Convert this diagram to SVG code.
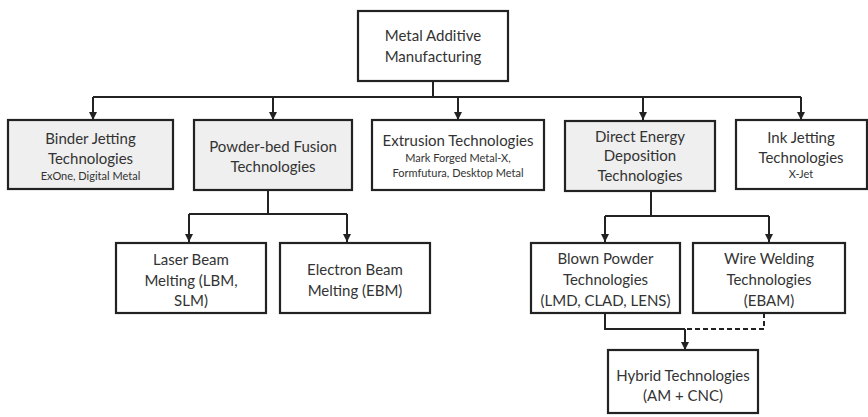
<svg xmlns="http://www.w3.org/2000/svg" width="868" height="417" viewBox="0 0 868 417">
  <defs>
    <marker id="arrow" viewBox="0 0 10 10" refX="10" refY="5" markerWidth="4" markerHeight="4" orient="auto" markerUnits="strokeWidth">
      <path d="M0,0 L10,5 L0,10 z" fill="#222"/>
    </marker>
    <style>
      .box { fill: #ffffff; stroke: #222; stroke-width: 2.2; }
      .box.grey { fill: #efefef; }
      .t { font-family: Lato, "Liberation Sans", sans-serif; font-size: 15px; fill: #333; text-anchor: middle; }
      .s { font-family: Lato, "Liberation Sans", sans-serif; font-size: 11px; fill: #333; text-anchor: middle; }
      .line { fill: none; stroke: #222; stroke-width: 2; }
      .arr { marker-end: url(#arrow); }
      .dash { stroke-dasharray: 5 3; }
    </style>
  </defs>
  <rect width="868" height="417" fill="#ffffff"/>

  <!-- connectors -->
  <g id="connectors">
    <path class="line" d="M433 81 V97 M93 97 H801"/>
    <path class="line arr" d="M93 97 V120"/>
    <path class="line arr" d="M273 97 V120"/>
    <path class="line arr" d="M458 97 V120"/>
    <path class="line arr" d="M643 97 V120"/>
    <path class="line arr" d="M801 97 V120"/>

    <path class="line" d="M268 190 V214 M189 214 H347"/>
    <path class="line arr" d="M189 214 V242"/>
    <path class="line arr" d="M347 214 V242"/>

    <path class="line" d="M651 190 V216 M605 216 H769"/>
    <path class="line arr" d="M605 216 V242"/>
    <path class="line arr" d="M769 216 V242"/>

    <path class="line" d="M605 313 V329 H685"/>
    <path class="line dash" d="M764 313 V329 H685"/>
    <path class="line arr" d="M685 329 V350"/>
  </g>

  <g id="metal-am">
    <rect class="box" x="358" y="11" width="150" height="70"/>
    <text class="t" x="433" y="41">Metal Additive</text>
    <text class="t" x="433" y="62">Manufacturing</text>
  </g>

  <g id="binder-jetting">
    <rect class="box grey" x="8" y="120" width="165" height="69"/>
    <text class="t" x="90.5" y="143.5">Binder Jetting</text>
    <text class="t" x="90.5" y="163.5">Technologies</text>
    <text class="s" x="90.5" y="180">ExOne, Digital Metal</text>
  </g>

  <g id="powder-bed">
    <rect class="box grey" x="194" y="120" width="158" height="70"/>
    <text class="t" x="273" y="151.5">Powder-bed Fusion</text>
    <text class="t" x="273" y="171.5">Technologies</text>
  </g>

  <g id="extrusion">
    <rect class="box" x="372" y="120" width="172" height="70"/>
    <text class="t" x="458" y="145.5">Extrusion Technologies</text>
    <text class="s" x="458" y="162">Mark Forged Metal-X,</text>
    <text class="s" x="458" y="177">Formfutura, Desktop Metal</text>
  </g>

  <g id="ded">
    <rect class="box grey" x="565" y="121" width="150" height="70"/>
    <text class="t" x="640" y="141.5">Direct Energy</text>
    <text class="t" x="640" y="161">Deposition</text>
    <text class="t" x="640" y="180.5">Technologies</text>
  </g>

  <g id="ink-jetting">
    <rect class="box" x="736" y="120" width="131" height="69"/>
    <text class="t" x="801" y="142.5">Ink Jetting</text>
    <text class="t" x="801" y="162.5">Technologies</text>
    <text class="s" x="801" y="178">X-Jet</text>
  </g>

  <g id="lbm">
    <rect class="box" x="116" y="243" width="150" height="70"/>
    <text class="t" x="191" y="264.5">Laser Beam</text>
    <text class="t" x="191" y="285.5">Melting (LBM,</text>
    <text class="t" x="191" y="305.5">SLM)</text>
  </g>

  <g id="ebm">
    <rect class="box" x="280" y="243" width="150" height="70"/>
    <text class="t" x="355" y="274.5">Electron Beam</text>
    <text class="t" x="355" y="295.5">Melting (EBM)</text>
  </g>

  <g id="blown-powder">
    <rect class="box" x="531" y="243" width="149" height="70"/>
    <text class="t" x="605.5" y="263.5">Blown Powder</text>
    <text class="t" x="605.5" y="284.5">Technologies</text>
    <text class="t" x="605.5" y="305.5">(LMD, CLAD, LENS)</text>
  </g>

  <g id="wire-welding">
    <rect class="box" x="693" y="243" width="152" height="70"/>
    <text class="t" x="769" y="263.5">Wire Welding</text>
    <text class="t" x="769" y="284.5">Technologies</text>
    <text class="t" x="769" y="305.5">(EBAM)</text>
  </g>

  <g id="hybrid">
    <rect class="box" x="608" y="350" width="150" height="63"/>
    <text class="t" x="683" y="381">Hybrid Technologies</text>
    <text class="t" x="683" y="401">(AM + CNC)</text>
  </g>
</svg>
